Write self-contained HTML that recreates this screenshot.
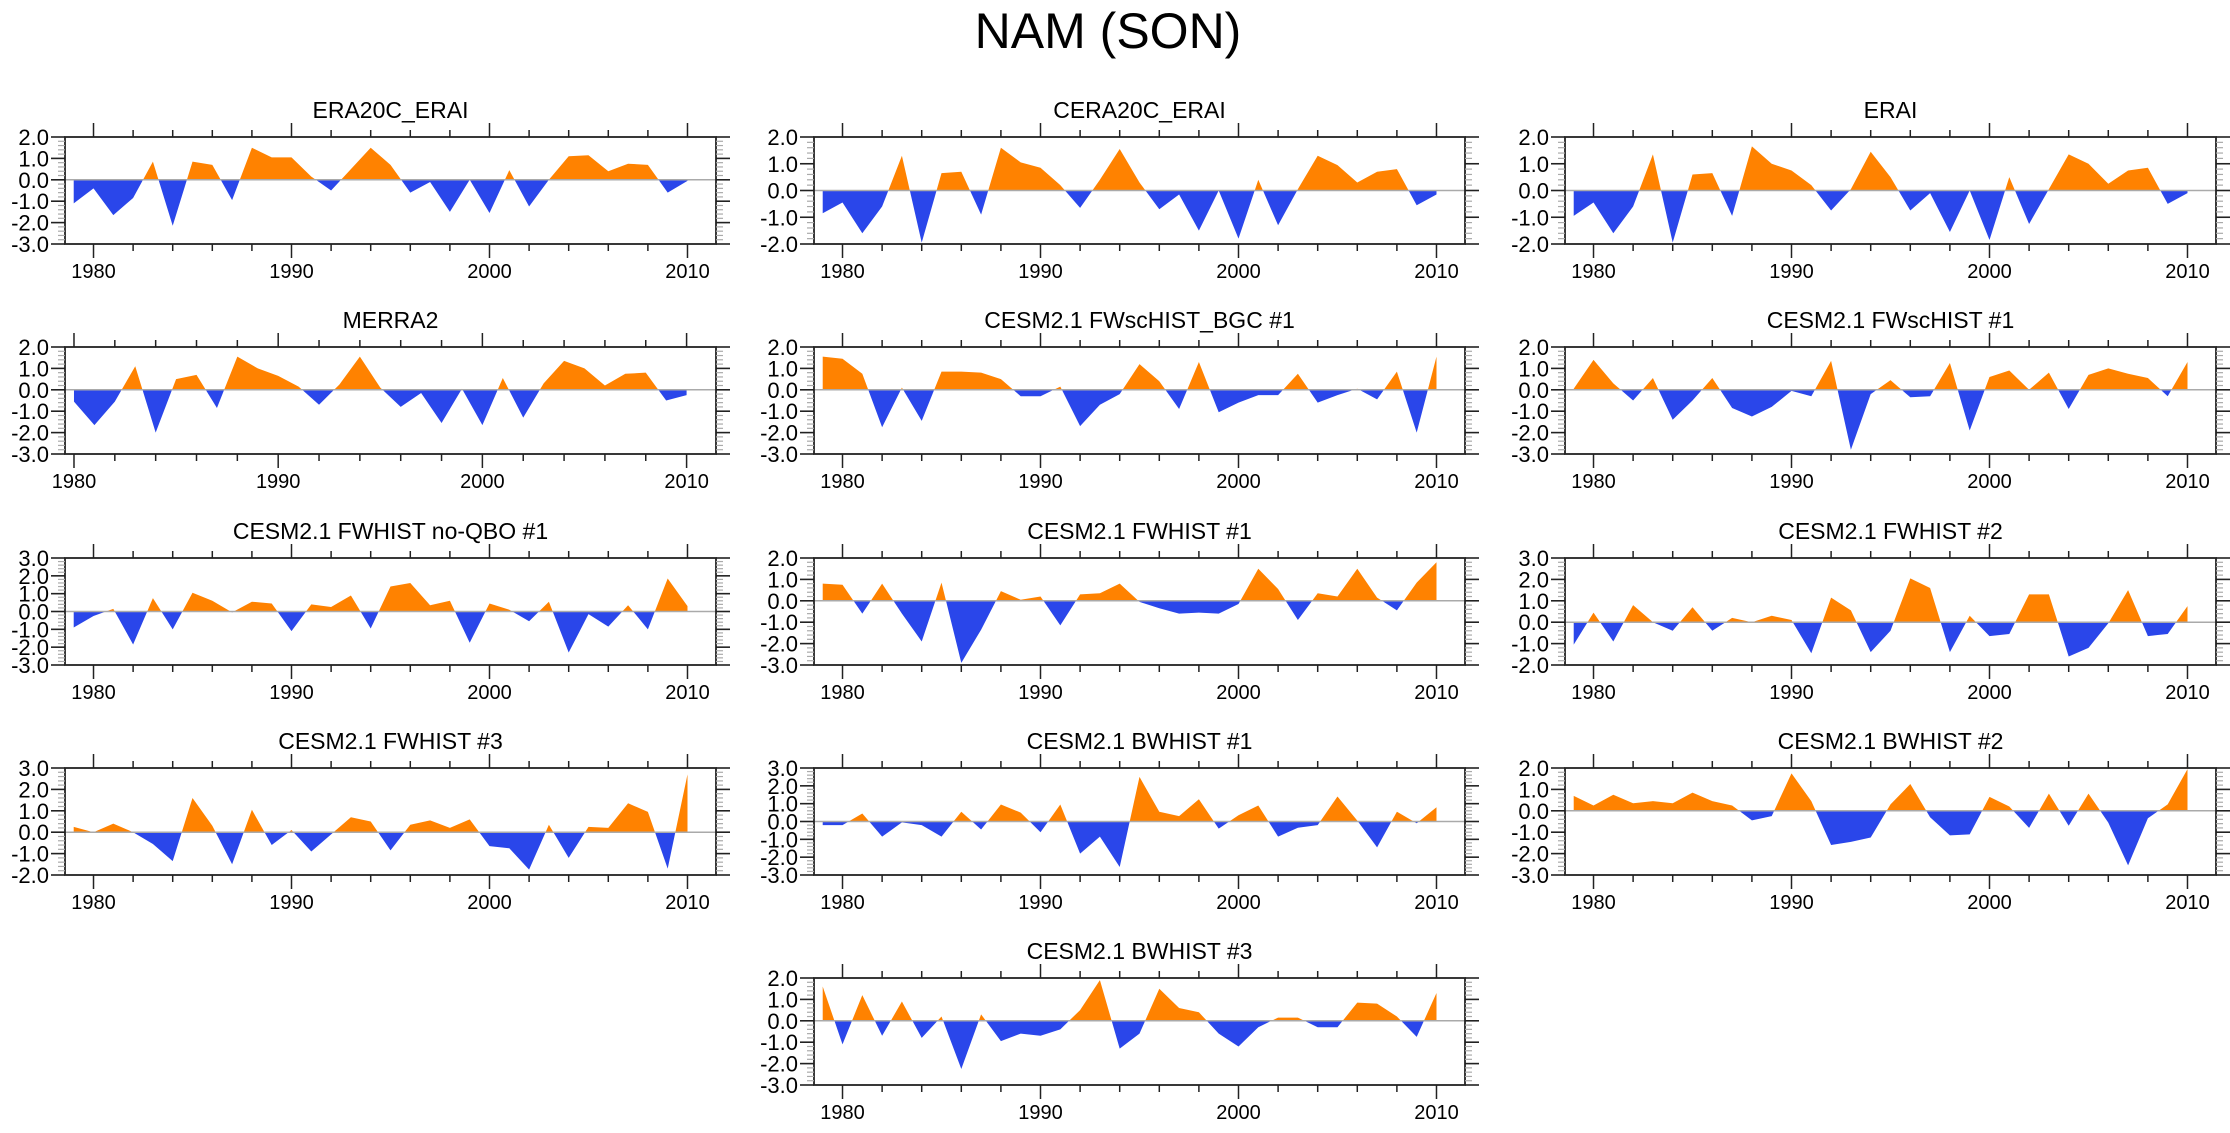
<!DOCTYPE html>
<html><head><meta charset="utf-8"><title>NAM (SON)</title>
<style>
html,body{margin:0;padding:0;background:#fff;}
svg{display:block;font-family:"Liberation Sans",Arial,sans-serif;}
</style></head>
<body>
<svg id="chart" width="2230" height="1133" viewBox="0 0 2230 1133" xmlns="http://www.w3.org/2000/svg">
<text x="1108" y="48" font-size="50" text-anchor="middle">NAM (SON)</text>
</svg>
<script>
const years79 = [1979,1980,1981,1982,1983,1984,1985,1986,1987,1988,1989,1990,1991,1992,1993,1994,1995,1996,1997,1998,1999,2000,2001,2002,2003,2004,2005,2006,2007,2008,2009,2010];
const years80 = [1980,1981,1982,1983,1984,1985,1986,1987,1988,1989,1990,1991,1992,1993,1994,1995,1996,1997,1998,1999,2000,2001,2002,2003,2004,2005,2006,2007,2008,2009,2010];
const xTickYears = [1980,1990,2000,2010];
const panelTitles = ["ERA20C_ERAI","CERA20C_ERAI","ERAI","MERRA2","CESM2.1 FWscHIST_BGC #1","CESM2.1 FWscHIST #1","CESM2.1 FWHIST no-QBO #1","CESM2.1 FWHIST #1","CESM2.1 FWHIST #2","CESM2.1 FWHIST #3","CESM2.1 BWHIST #1","CESM2.1 BWHIST #2","CESM2.1 BWHIST #3"];
const yMins = [-3,-2,-2,-3,-3,-3,-3,-3,-2,-2,-3,-3,-3];
const yMaxs = [2,2,2,2,2,2,3,2,3,3,3,2,2];

const valsERA20C = [-1.1,-0.4,-1.65,-0.85,0.85,-2.15,0.85,0.7,-0.95,1.5,1.05,1.05,0.15,-0.5,0.5,1.5,0.7,-0.6,-0.1,-1.5,0.0,-1.55,0.45,-1.25,0.0,1.1,1.15,0.4,0.75,0.7,-0.6,-0.05];
const valsCERA20C = [-0.85,-0.45,-1.6,-0.6,1.3,-1.95,0.65,0.7,-0.9,1.6,1.05,0.85,0.2,-0.65,0.4,1.55,0.3,-0.7,-0.15,-1.5,0.0,-1.8,0.4,-1.3,0.05,1.3,0.95,0.3,0.7,0.8,-0.55,-0.15];
const valsERAI = [-0.95,-0.45,-1.6,-0.6,1.35,-1.95,0.6,0.65,-0.95,1.65,1.0,0.75,0.2,-0.75,0.05,1.45,0.5,-0.75,-0.1,-1.55,0.0,-1.85,0.5,-1.25,0.05,1.35,1.0,0.25,0.75,0.85,-0.5,-0.1];
const valsMERRA2 = [-0.55,-1.65,-0.55,1.1,-2.0,0.5,0.7,-0.85,1.55,1.0,0.65,0.15,-0.7,0.25,1.55,0.1,-0.8,-0.15,-1.55,0.05,-1.65,0.55,-1.3,0.3,1.35,1.0,0.2,0.75,0.8,-0.5,-0.25];
const valsFWscBGC1 = [1.55,1.45,0.75,-1.75,0.1,-1.45,0.85,0.85,0.8,0.5,-0.3,-0.3,0.15,-1.7,-0.7,-0.2,1.2,0.4,-0.9,1.3,-1.05,-0.6,-0.25,-0.25,0.75,-0.6,-0.25,0.05,-0.45,0.85,-2.0,1.55];
const valsFWsc1 = [0.05,1.4,0.3,-0.5,0.55,-1.4,-0.5,0.55,-0.85,-1.25,-0.8,-0.05,-0.3,1.35,-2.8,-0.2,0.45,-0.35,-0.3,1.25,-1.9,0.6,0.9,0.0,0.8,-0.9,0.7,1.0,0.75,0.55,-0.3,1.3];
const valsNoQBO1 = [-0.9,-0.25,0.15,-1.85,0.75,-1.0,1.05,0.6,-0.05,0.55,0.45,-1.1,0.4,0.25,0.9,-0.95,1.4,1.6,0.35,0.6,-1.75,0.45,0.1,-0.55,0.55,-2.3,-0.15,-0.85,0.35,-1.0,1.85,0.3];
const valsFW1 = [0.8,0.75,-0.6,0.8,-0.6,-1.9,0.85,-2.9,-1.35,0.45,0.05,0.2,-1.15,0.3,0.35,0.8,-0.05,-0.35,-0.6,-0.55,-0.6,-0.15,1.5,0.55,-0.9,0.35,0.2,1.5,0.15,-0.45,0.85,1.8];
const valsFW2 = [-1.05,0.45,-0.9,0.8,0.0,-0.4,0.7,-0.4,0.2,0.0,0.3,0.1,-1.45,1.15,0.55,-1.4,-0.4,2.05,1.6,-1.4,0.3,-0.65,-0.55,1.3,1.3,-1.6,-1.2,-0.05,1.5,-0.65,-0.55,0.75];
const valsFW3 = [0.25,0.0,0.4,0.0,-0.55,-1.35,1.6,0.3,-1.5,1.05,-0.6,0.1,-0.9,-0.1,0.7,0.5,-0.85,0.35,0.55,0.2,0.6,-0.65,-0.75,-1.75,0.35,-1.2,0.25,0.2,1.35,0.95,-1.7,2.7];
const valsBW1 = [-0.2,-0.2,0.45,-0.85,-0.05,-0.2,-0.85,0.55,-0.45,0.95,0.5,-0.6,0.95,-1.8,-0.85,-2.55,2.5,0.55,0.3,1.25,-0.4,0.35,0.9,-0.85,-0.35,-0.2,1.4,0.05,-1.45,0.55,-0.1,0.8];
const valsBW2 = [0.7,0.25,0.75,0.35,0.45,0.35,0.85,0.45,0.25,-0.45,-0.25,1.75,0.45,-1.6,-1.45,-1.25,0.3,1.25,-0.3,-1.15,-1.1,0.65,0.2,-0.8,0.8,-0.7,0.8,-0.55,-2.55,-0.35,0.3,1.95];
const valsBW3 = [1.6,-1.1,1.2,-0.7,0.9,-0.8,0.2,-2.25,0.3,-0.95,-0.6,-0.7,-0.4,0.5,1.9,-1.3,-0.6,1.5,0.6,0.4,-0.6,-1.2,-0.3,0.15,0.15,-0.3,-0.3,0.85,0.8,0.2,-0.75,1.3];

const panelValues = [valsERA20C,valsCERA20C,valsERAI,valsMERRA2,valsFWscBGC1,valsFWsc1,valsNoQBO1,valsFW1,valsFW2,valsFW3,valsBW1,valsBW2,valsBW3];
const panelYears = [years79,years79,years79,years80,years79,years79,years79,years79,years79,years79,years79,years79,years79];

// layout (not data)
const colLeft = [65,814,1565];
const rowTop = [137,347,558,768,978];
const boxW = 651, boxH = 107;
const NS = "http://www.w3.org/2000/svg";
const svg = document.getElementById('chart');
function mk(tag, attrs, parent){
  const e = document.createElementNS(NS, tag);
  for (const k in attrs) e.setAttribute(k, attrs[k]);
  (parent||svg).appendChild(e);
  return e;
}
function fmt(v){ return v.toFixed(1); }

panelTitles.forEach((title, i) => {
  const col = i < 12 ? i % 3 : 1;
  const row = Math.floor(i / 3);
  const L = colLeft[col], T = rowTop[row], R = L + boxW, B = T + boxH;
  const yrs = panelYears[i], vals = panelValues[i];
  const xmin = yrs[0] === 1980 ? 1979.56 : 1978.56, xmax = 2011.44;
  const ymin = yMins[i], ymax = yMaxs[i];
  const xs = v => L + (v - xmin) / (xmax - xmin) * boxW;
  const ys = v => B - (v - ymin) / (ymax - ymin) * boxH;

  const g = mk('g', {});
  
  

  const t = mk('text', {x:(L+R)/2, y:T-19, 'font-size':23, 'text-anchor':'middle'}, g);
  t.textContent = title;
  
  

  const cid = 'clip' + i;
  const defs = mk('defs', {}, g);
  const cp1 = mk('clipPath', {id: cid + 'p'}, defs);
  mk('rect', {x:L, y:T, width:boxW, height:ys(0)-T}, cp1);
  const cp2 = mk('clipPath', {id: cid + 'n'}, defs);
  mk('rect', {x:L, y:ys(0), width:boxW, height:B-ys(0)}, cp2);

  let d = '';
  vals.forEach((v, k) => { d += (k ? 'L' : 'M') + xs(yrs[k]).toFixed(2) + ',' + ys(v).toFixed(2); });
  d += 'L' + xs(yrs[yrs.length-1]).toFixed(2) + ',' + ys(0).toFixed(2) + 'L' + xs(yrs[0]).toFixed(2) + ',' + ys(0).toFixed(2) + 'Z';
  const pos = mk('path', {d:d, fill:'#ff8200', 'clip-path':'url(#' + cid + 'p)'}, g);
  
  
  const neg = mk('path', {d:d, fill:'#2a46ea', 'clip-path':'url(#' + cid + 'n)'}, g);
  
  

  const zl = mk('line', {x1:L, x2:R, y1:ys(0), y2:ys(0), stroke:'#aaaaaa', 'stroke-width':1.5}, g);
  
  

  const frame = mk('rect', {x:L, y:T, width:boxW, height:boxH, fill:'none', stroke:'#222', 'stroke-width':1.8}, g);
  
  

  for (let v = ymin; v <= ymax + 1e-6; v += 0.2) {
    const vv = Math.round(v * 10) / 10;
    const major = Math.abs(vv - Math.round(vv)) < 1e-6;
    const len = major ? 14 : 7;
    const y = ys(vv);
    mk('line', {x1:L-len, x2:L, y1:y, y2:y, stroke:major?'#222':'#aaa', 'stroke-width':major?1.6:1.2}, g);
    mk('line', {x1:R, x2:R+len, y1:y, y2:y, stroke:major?'#222':'#aaa', 'stroke-width':major?1.6:1.2}, g);
    if (major) {
      const lb = mk('text', {x:L-16, y:y+8, 'font-size':22, 'text-anchor':'end'}, g);
      lb.textContent = fmt(vv);
      
      
    }
  }
  for (let yr = 1980; yr <= 2010; yr += 2) {
    const major = xTickYears.includes(yr);
    const len = major ? 14 : 7;
    const x = xs(yr);
    mk('line', {x1:x, x2:x, y1:T-len, y2:T, stroke:'#222', 'stroke-width':1.5}, g);
    mk('line', {x1:x, x2:x, y1:B, y2:B+len, stroke:'#222', 'stroke-width':1.5}, g);
  }
  xTickYears.forEach(yr => {
    const lb = mk('text', {x:xs(yr), y:B+34, 'font-size':20, 'text-anchor':'middle'}, g);
    lb.textContent = String(yr);
    
    
  });
});
</script>
</body></html>
